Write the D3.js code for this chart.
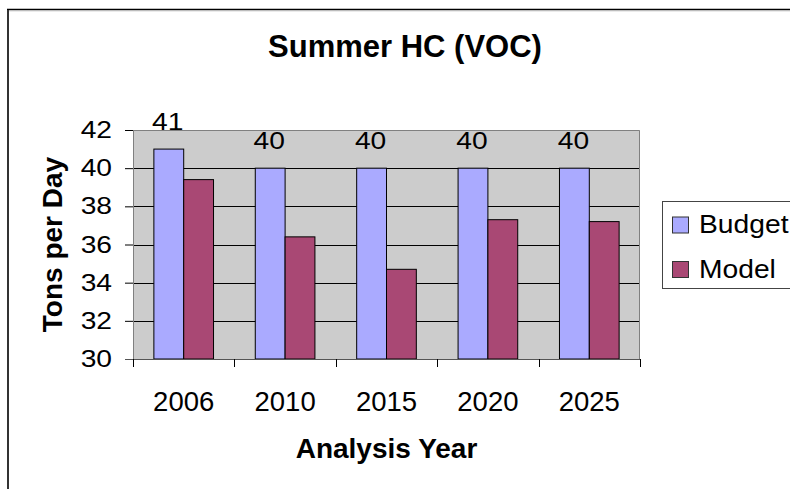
<!DOCTYPE html>
<html>
<head>
<meta charset="utf-8">
<script src="https://cdn.jsdelivr.net/npm/d3@7"></script>
<style>
	body { margin: 0; background: #fff; }
	svg { display: block; font-family: "Liberation Sans", Arial, sans-serif; }
</style>
</head>
<body>
<script>
const width = 790,
	height = 489

const years = ["2006", "2010", "2015", "2020", "2025"]
const seriesNames = ["Budget", "Model"]
const budget = [41, 40, 40, 40, 40]
const model = [39.4, 36.4, 34.7, 37.3, 37.2]
const yTicks = [30, 32, 34, 36, 38, 40, 42]

const colors = { Budget: "#aaaaff", Model: "#a94874" }

const plot = { left: 133, right: 640, top: 130, bottom: 359 }

// the small labels in the original are drawn a bit wide
const stretch = 1.2

const svg = d3.select("body")
	.append("svg")
	.attr("width", width)
	.attr("height", height)

// outer chart frame (top + left edges only are visible)
svg.append("line")
	.attr("x1", 7).attr("x2", width).attr("y1", 9.5).attr("y2", 9.5)
	.attr("stroke", "#000").attr("stroke-width", 1.5)
svg.append("line")
	.attr("x1", 9).attr("x2", width).attr("y1", 10.8).attr("y2", 10.8)
	.attr("stroke", "#bbb").attr("stroke-width", 1)
svg.append("rect")
	.attr("x", 7).attr("y", 10).attr("width", 2).attr("height", height - 10)
	.attr("fill", "#333")

const x0 = d3.scaleBand()
	.domain(years)
	.range([plot.left, plot.right])

const x1 = d3.scaleBand()
	.domain(seriesNames)
	.range([0, x0.bandwidth()])
	.paddingOuter(0.7)

const y = d3.scaleLinear()
	.domain([30, 42])
	.range([plot.bottom, plot.top])

// plot area
svg.append("rect")
	.attr("x", plot.left)
	.attr("y", plot.top)
	.attr("width", plot.right - plot.left)
	.attr("height", plot.bottom - plot.top)
	.attr("fill", "#cccccc")

// gridlines
svg.append("g")
	.selectAll("line")
	.data(yTicks.filter(t => t > 30 && t < 42))
	.join("line")
	.attr("x1", plot.left)
	.attr("x2", plot.right)
	.attr("y1", d => Math.round(y(d)) + 0.5)
	.attr("y2", d => Math.round(y(d)) + 0.5)
	.attr("stroke", "#000")

// plot border top + right
svg.append("path")
	.attr("d", `M${plot.left},${plot.top + 0.5}H${plot.right - 0.5}V${plot.bottom}`)
	.attr("fill", "none")
	.attr("stroke", "#808080")

const rows = years.map((yr, i) => ({ year: yr, Budget: budget[i], Model: model[i] }))

const groups = svg.append("g")
	.selectAll("g")
	.data(rows)
	.join("g")
	.attr("transform", d => `translate(${x0(d.year)},0)`)

groups.selectAll("rect")
	.data(d => seriesNames.map(s => ({ key: s, value: d[s] })))
	.join("rect")
	.attr("x", d => x1(d.key))
	.attr("y", d => y(d.value))
	.attr("width", x1.bandwidth())
	.attr("height", d => y(30) - y(d.value))
	.attr("fill", d => colors[d.key])
	.attr("stroke", "#000")
	.attr("stroke-width", 1)

// data labels over budget bars
groups.append("text")
	.attr("transform", d => `translate(${x1("Budget") + x1.bandwidth() / 2 - 1},${y(d.Budget) - 19}) scale(${stretch},1)`)
	.attr("text-anchor", "middle")
	.attr("font-size", 23.5)
	.attr("fill", "#000")
	.text(d => d.Budget)

// y axis
const yAxis = svg.append("g")
	.attr("transform", `translate(${plot.left},0)`)
	.call(d3.axisLeft(y).tickValues(yTicks).tickSize(8).tickPadding(13).tickSizeOuter(0))
yAxis.select(".domain").attr("stroke", "#808080")
yAxis.selectAll(".tick line").attr("stroke", "#000")
yAxis.selectAll("text")
	.attr("x", -21 / stretch)
	.attr("transform", `scale(${stretch},1)`)
	.attr("font-size", 23.5)
	.attr("font-family", "Liberation Sans, Arial, sans-serif")
	.attr("fill", "#000")

// x axis line + boundary ticks
svg.append("line")
	.attr("x1", plot.left - 8).attr("x2", plot.right)
	.attr("y1", plot.bottom + 0.5).attr("y2", plot.bottom + 0.5)
	.attr("stroke", "#555")
svg.append("g")
	.selectAll("line")
	.data(years.map(d => x0(d)).concat([plot.right]))
	.join("line")
	.attr("x1", d => Math.round(d) + 0.5)
	.attr("x2", d => Math.round(d) + 0.5)
	.attr("y1", plot.bottom)
	.attr("y2", plot.bottom + 8)
	.attr("stroke", "#000")

const xAxis = svg.append("g")
	.attr("transform", `translate(0,${plot.bottom})`)
	.call(d3.axisBottom(x0).tickSize(0).tickPadding(32))
xAxis.select(".domain").remove()
xAxis.selectAll("text")
	.attr("font-size", 27.5)
	.attr("font-family", "Liberation Sans, Arial, sans-serif")
	.attr("fill", "#000")

// titles
svg.append("text")
	.attr("x", 405)
	.attr("y", 57)
	.attr("text-anchor", "middle")
	.attr("font-size", 31)
	.attr("font-weight", "bold")
	.text("Summer HC (VOC)")

svg.append("text")
	.attr("x", (plot.left + plot.right) / 2)
	.attr("y", 458)
	.attr("text-anchor", "middle")
	.attr("font-size", 28)
	.attr("font-weight", "bold")
	.text("Analysis Year")

svg.append("text")
	.attr("transform", `translate(62,${(plot.top + plot.bottom) / 2}) rotate(-90)`)
	.attr("text-anchor", "middle")
	.attr("font-size", 28)
	.attr("font-weight", "bold")
	.text("Tons per Day")

// legend
const legend = svg.append("g")
legend.append("rect")
	.attr("x", 662.5)
	.attr("y", 201.5)
	.attr("width", 160)
	.attr("height", 87)
	.attr("fill", "#fff")
	.attr("stroke", "#444")

const legendItem = legend.selectAll("g")
	.data(seriesNames)
	.join("g")
	.attr("transform", (d, i) => `translate(672.5,${217 + i * 44.5})`)

legendItem.append("rect")
	.attr("width", 16)
	.attr("height", 16)
	.attr("fill", d => colors[d])
	.attr("stroke", "#333")

legendItem.append("text")
	.attr("transform", "translate(26.5,16) scale(1.13,1)")
	.attr("font-size", 25)
	.text(d => d)
</script>
</body>
</html>
